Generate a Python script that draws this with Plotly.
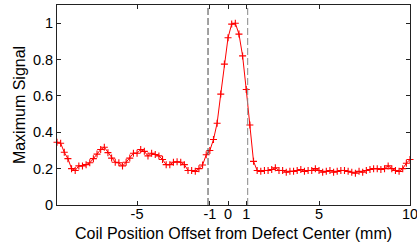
import numpy as np
import plotly.graph_objects as go

# coil offsets (mm), 0.2 mm step from -9.4 to 10
x_start = -9.4
x_step = 0.2
signal_left = [0.345, 0.34, 0.29, 0.255, 0.20, 0.19, 0.215, 0.215, 0.222, 0.232,
               0.255, 0.28, 0.305, 0.318, 0.288, 0.258, 0.235, 0.232, 0.215, 0.235,
               0.258, 0.285, 0.285, 0.305, 0.295, 0.27, 0.285, 0.278, 0.27, 0.25,
               0.222, 0.222, 0.235, 0.238, 0.235, 0.222, 0.19, 0.19, 0.185, 0.2]
signal_peak = [0.22, 0.276, 0.30, 0.36, 0.45, 0.61, 0.775, 0.92, 0.995, 1.0,
               0.94, 0.82, 0.635, 0.44, 0.24, 0.19]
signal_right = [0.185, 0.19, 0.19, 0.195, 0.205, 0.19, 0.19, 0.18, 0.185, 0.185,
                0.19, 0.195, 0.185, 0.19, 0.19, 0.2, 0.19, 0.18, 0.185, 0.19,
                0.18, 0.185, 0.19, 0.19, 0.185, 0.18, 0.175, 0.185, 0.18, 0.19,
                0.195, 0.2, 0.2, 0.195, 0.2, 0.215, 0.2, 0.19, 0.185, 0.2,
                0.23, 0.25]
signal = signal_left + signal_peak + signal_right
offsets = [round(x_start + x_step * i, 2) for i in range(len(signal))]

defect_edges = [-1.1, 1.08]
x_ticks = [-5, -1, 0, 1, 5, 10]
y_ticks = [0, 0.2, 0.4, 0.6, 0.8, 1]

fig = go.Figure()
fig.add_trace(go.Scatter(
    x=offsets, y=signal, mode="lines+markers",
    line=dict(color="#ff0000", width=1),
    marker=dict(symbol="cross-thin", size=5, line=dict(color="#ff0000", width=1.1)),
    cliponaxis=False, showlegend=False))

edge_colors = ["#444444", "#888888"]
for xe, c in zip(defect_edges, edge_colors):
    fig.add_shape(type="line", xref="x", yref="paper", x0=xe, x1=xe, y0=0, y1=1,
                  line=dict(color=c, width=1, dash="7px,3px"))

axis_common = dict(showline=True, linecolor="#222222", linewidth=1, mirror="ticks",
                   ticks="inside", ticklen=4, tickcolor="#222222", showgrid=False,
                   zeroline=False,
                   tickfont=dict(size=14.5, color="#000000"))
fig.update_xaxes(range=[-9.4, 10], tickvals=x_ticks, ticktext=[str(v) for v in x_ticks],
                 ticklabeloverflow="allow", ticklabelstandoff=-4, automargin=False,
                 title=dict(text="Coil Position Offset from Defect Center (mm)",
                            font=dict(size=16, color="#000000")),
                 **axis_common)
fig.update_yaxes(range=[0, 1.1], tickvals=y_ticks, ticktext=["0", "0.2", "0.4", "0.6", "0.8", "1"],
                 automargin=True,
                 title=dict(text="Maximum Signal", font=dict(size=16, color="#000000"), standoff=3),
                 **axis_common)
fig.update_layout(width=417, height=242, margin=dict(l=57, r=7, t=5, b=37),
                  paper_bgcolor="white", plot_bgcolor="white",
                  font=dict(family="Liberation Sans, Arial, sans-serif"))
fig.write_html("out.html", config={"displayModeBar": False},
               post_script="document.body.style.margin='0';document.body.style.overflow='hidden';")
